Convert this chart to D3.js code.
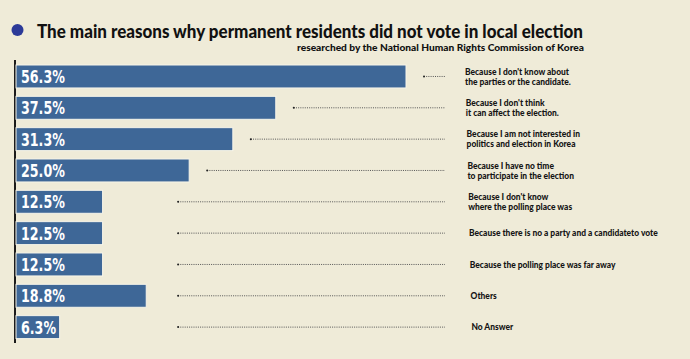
<!DOCTYPE html>
<html><head><meta charset="utf-8">
<script src="https://cdn.jsdelivr.net/npm/d3@7"></script>
<style>
html,body{margin:0;padding:0;background:#efebd8;}
svg{display:block;}
</style></head>
<body>
<svg id="c" width="690" height="359"></svg>
<script>
const title = "The main reasons why permanent residents did not vote in local election";
const subtitle = "researched by the National Human Rights Commission of Korea";
const categories = [
  ["Because I don't know about", "the parties or the candidate."],
  ["Because I don't think", "it can affect the election."],
  ["Because I am not interested in", "politics and election in Korea"],
  ["Because I have no time", "to participate in the election"],
  ["Because I don't know", "where the polling place was"],
  ["Because there is no a party and a candidateto vote"],
  ["Because the polling place was far away"],
  ["Others"],
  ["No Answer"]
];
const values = [56.3, 37.5, 31.3, 25.0, 12.5, 12.5, 12.5, 18.8, 6.3];
const valueLabels = ["56.3%", "37.5%", "31.3%", "25.0%", "12.5%", "12.5%", "12.5%", "18.8%", "6.3%"];

const svg = d3.select("#c");
const condFont = "'DejaVu Sans Condensed','DejaVu Sans',sans-serif";
const textFont = "Lato,'Open Sans',sans-serif";
const idx = d3.range(values.length);

function squeeze(sel, f) {
  sel.each(function () {
    const w = this.getComputedTextLength();
    d3.select(this).attr("textLength", w * f).attr("lengthAdjust", "spacingAndGlyphs");
  });
}

const x = d3.scaleLinear().domain([0, 56.3]).range([16, 406]);
const y = d3.scaleBand().domain(idx).range([65, 338.6]).paddingInner(0.267).paddingOuter(0);

// title
svg.append("circle").attr("cx", 17.5).attr("cy", 30).attr("r", 6).attr("fill", "#2c3a98");
svg.append("text").attr("x", 37).attr("y", 38).text(title)
  .attr("font-family", textFont).attr("font-weight", "900").attr("font-size", 18)
  .attr("fill", "#111").attr("textLength", 546).attr("lengthAdjust", "spacingAndGlyphs");
svg.append("text").attr("x", 584).attr("y", 51).text(subtitle)
  .attr("text-anchor", "end")
  .attr("font-family", textFont).attr("font-weight", "900").attr("font-size", 10)
  .attr("fill", "#111").attr("textLength", 287).attr("lengthAdjust", "spacingAndGlyphs");

// axis line
svg.append("line").attr("x1", 15).attr("x2", 15).attr("y1", 60).attr("y2", 343)
  .attr("stroke", "#1b1b1b").attr("stroke-width", 2);

// bars
svg.selectAll("rect.bar").data(idx).join("rect").attr("class", "bar")
  .attr("x", x(0)).attr("y", i => y(i))
  .attr("width", i => x(values[i]) - x(0)).attr("height", y.bandwidth())
  .attr("fill", "#3e6797").attr("stroke", "#f7f5ea").attr("stroke-width", 1);

const vals = svg.selectAll("text.val").data(idx).join("text").attr("class", "val")
  .attr("x", x(0) + 5).attr("y", i => y(i) + y.bandwidth() / 2 + 6.5)
  .text(i => valueLabels[i])
  .attr("font-family", condFont).attr("font-weight", "bold").attr("font-size", 18.5)
  .attr("fill", "#ffffff");
squeeze(vals, 0.76);

// leaders
const leaderEnd = 445;
const leaderStart = i => Math.max(x(values[i]) + 18, x(23.4));
svg.selectAll("line.lead").data(idx).join("line").attr("class", "lead")
  .attr("x1", i => leaderStart(i)).attr("x2", leaderEnd)
  .attr("y1", i => y(i) + y.bandwidth() / 2).attr("y2", i => y(i) + y.bandwidth() / 2)
  .attr("stroke", "#555").attr("stroke-width", 1).attr("stroke-dasharray", "1,1.2");
svg.selectAll("circle.ld").data(idx).join("circle").attr("class", "ld")
  .attr("cx", i => leaderStart(i)).attr("cy", i => y(i) + y.bandwidth() / 2)
  .attr("r", 1).attr("fill", "#222");

// category labels
const lab = svg.selectAll("text.cat").data(idx).join("text").attr("class", "cat")
  .attr("x", i => 465 + i * 0.8)
  .attr("y", i => y(i) + y.bandwidth() / 2 - (categories[i].length - 1) * 5 + 3.2)
  .attr("font-family", textFont).attr("font-weight", "900").attr("font-size", 9.5)
  .attr("fill", "#151515");
const tsp = lab.selectAll("tspan").data(i => categories[i].map(t => ({t, i}))).join("tspan")
  .attr("x", d => 465 + d.i * 0.8).attr("dy", (d, j) => j === 0 ? 0 : 10).text(d => d.t);
// fit so that the first line matches the reference width (~104px)
const refW = tsp.filter((d, j) => d.i === 0 && j === 0).node().getComputedTextLength();
squeeze(tsp, 104 / refW);
</script>
</body></html>
